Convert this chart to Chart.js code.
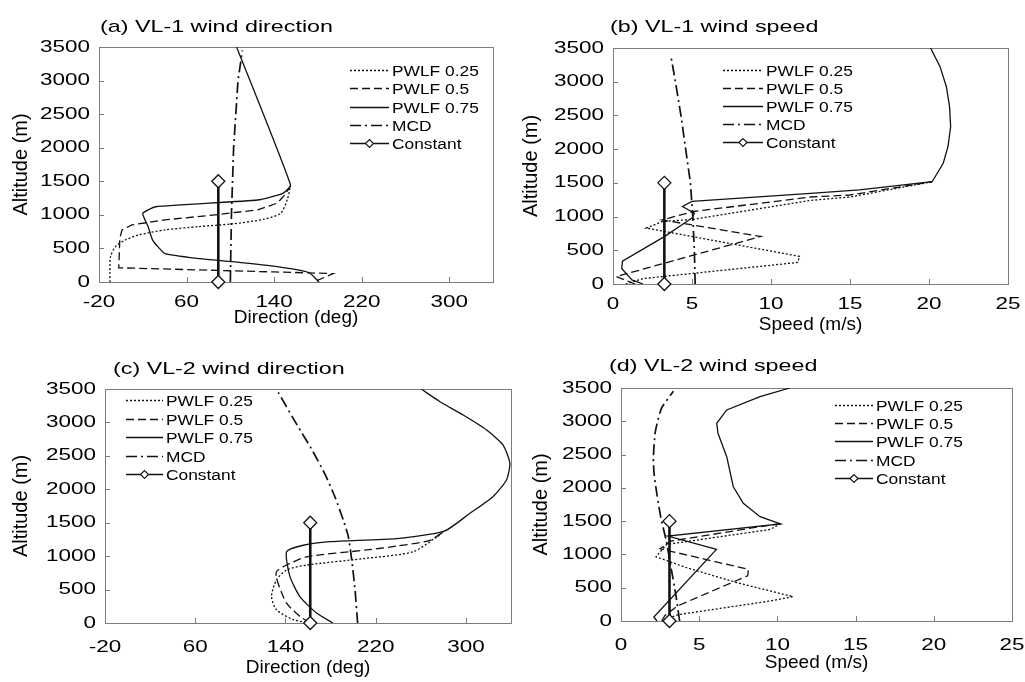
<!DOCTYPE html>
<html>
<head>
<meta charset="UTF-8">
<title>VL-1 / VL-2 wind profiles</title>
<script src="https://cdn.jsdelivr.net/npm/chart.js"></script>
<style>
  body { margin: 0; background: #fff; }
  #wrap { position: relative; width: 1025px; height: 682px; overflow: hidden; }
  canvas { position: absolute; }
</style>
</head>
<body>
<div id="wrap">
  <canvas id="chartA" width="510" height="341" style="left:0;top:0"></canvas>
  <canvas id="chartB" width="515" height="341" style="left:510px;top:0"></canvas>
  <canvas id="chartC" width="520" height="341" style="left:0;top:341px"></canvas>
  <canvas id="chartD" width="505" height="341" style="left:520px;top:341px"></canvas>
</div>
<script>
// series names and tick labels
var seriesNames = ['PWLF 0.25', 'PWLF 0.5', 'PWLF 0.75', 'MCD', 'Constant'];
var altTicks = [0, 500, 1000, 1500, 2000, 2500, 3000, 3500];
var dirTicks = [-20, 60, 140, 220, 300];
var speedTicks = [0, 5, 10, 15, 20, 25];

// values: [value, altitude (m)]
// (a) VL-1 wind direction (deg)
var vl1DirP25 = [[-10,0],[-10,150],[-9.5,375],[-5,525],[4,625],[16,700],[40,775],[71,825],[101,865],[131,935],[146,1025],[152,1225],[155,1435]];
var vl1DirP50 = [[179,20],[194,125],[140,150],[60,185],[-2,212],[-1.5,400],[-1,650],[1,775],[10,850],[40,925],[86,1000],[125,1075],[143,1175],[150,1300],[155,1430]];
var vl1DirP75 = [[181,0],[172,139],[143,228],[102,302],[72,348],[40,427],[29,625],[25,820],[20,1023],[32,1121],[125,1221],[148,1321],[155,1445],[105.7,3500]];
var vl1DirMcd = [[100,0],[100.5,500],[101,1000],[102,1500],[103,2000],[105,2500],[107,3000],[111,3450]];
var vl1DirConst = [[89,0],[89,1500]];

// (b) VL-1 wind speed (m/s)
var vl1SpdP25 = [[0.8,0],[1.9,80],[11.7,320],[11.8,410],[2.1,830],[3.1,925],[5.1,960],[12.5,1240],[15,1290],[20.2,1517]];
var vl1SpdP50 = [[1.4,0],[0.2,110],[9.35,705],[3.1,950],[5.1,1075],[12.5,1290],[15,1320],[20.2,1517]];
var vl1SpdP75 = [[1.9,0],[1.2,60],[0.55,230],[0.6,340],[3.3,710],[5.0,980],[5.15,1050],[4.4,1150],[5.0,1225],[12.5,1345],[15.6,1395],[20.2,1517],[20.9,1790],[21.2,2036],[21.37,2333],[21.3,2630],[21.1,2926],[20.7,3223],[20.1,3500]];
var vl1SpdMcd = [[5.2,0],[5.15,500],[5.05,1000],[4.9,1500],[4.6,2000],[4.3,2500],[3.95,3000],[3.65,3400]];
var vl1SpdConst = [[3.25,0],[3.25,1500]];

// (c) VL-2 wind direction (deg)
var vl2DirP25 = [[161.6,0],[147,50],[132,198],[127.7,396],[132,643],[141,792],[158.8,866],[210,965],[253,1064],[274,1287],[281,1375]];
var vl2DirP50 = [[161.6,0],[152.8,99],[141,297],[133.5,594],[132,767],[144,891],[158.8,990],[210,1089],[238.6,1150],[268,1237],[281,1375]];
var vl2DirP75 = [[182,0],[167.6,148],[152.8,396],[144,693],[141,1064],[155.8,1163],[179.5,1216],[238.6,1262],[281,1375],[303.6,1641],[324,1889],[336,2139],[339,2388],[333,2662],[318.4,2887],[297.6,3111],[277,3310],[260.7,3495]];
var vl2DirMcd = [[204,0],[201.7,495],[198.8,940],[195.8,1287],[191.4,1535],[184,1881],[175,2228],[163.2,2600],[150,2970],[133.6,3450]];
var vl2DirConst = [[162,0],[162,1500]];

// (d) VL-2 wind speed (m/s)
var vl2SpdP25 = [[2.8,30],[3.77,100],[9.53,300],[11.0,366],[7.5,570],[4.2,800],[2.24,965],[2.92,1150],[9.53,1375],[10.2,1460]];
var vl2SpdP50 = [[2.6,0],[2.8,80],[3.6,225],[8.1,680],[8.15,775],[2.5,1085],[3.2,1200],[9.5,1440],[10.2,1460]];
var vl2SpdP75 = [[2.3,0],[2.1,60],[6.1,1075],[3.0,1275],[10.2,1460],[8.89,1567],[7.82,1768],[7.18,2017],[6.76,2468],[6.2,2820],[6.12,2970],[6.76,3170],[8.89,3370],[10.8,3500]];
var vl2SpdMcd = [[3.75,0],[3.5,400],[3.2,800],[2.9,1200],[2.55,1550],[2.3,1900],[2.12,2200],[2.07,2450],[2.2,2850],[2.6,3200],[3.35,3450]];
var vl2SpdConst = [[3.1,0],[3.1,1500]];

var FONT = 'Arial, "Liberation Sans", sans-serif';
var INK = '#111';

// line styles for the five series
var seriesStyles = [
    { borderDash: [2, 2], borderWidth: 1.3 },
    { borderDash: [8, 4], borderWidth: 1.3 },
    { borderDash: [], borderWidth: 1.3 },
    { borderDash: [11, 4, 2, 4], borderWidth: 1.7 },
    { borderDash: [], borderWidth: 2.6, pointRadius: 6.5, pointStyle: 'rectRot',
      pointBackgroundColor: '#fff', pointBorderColor: INK, pointBorderWidth: 1.3, clip: false, order: -1 }
];

function makeSets(list, tension) {
    return list.map(function(pairs, i) {
        var ds = {
            label: seriesNames[i],
            data: pairs.map(function(p) { return { x: p[0], y: p[1] }; }),
            borderColor: INK,
            pointRadius: 0,
            fill: false,
            tension: i < 4 ? tension[i] : 0
        };
        return Object.assign(ds, seriesStyles[i]);
    });
}

// the picture's text is drawn wide, so labels are stretched sideways
function wideText(ctx, text, x, y, sx, align) {
    ctx.save();
    ctx.translate(x, y);
    ctx.scale(sx, 1);
    ctx.textAlign = align;
    ctx.fillText(text, 0, 0);
    ctx.restore();
}

// frame, inward tick marks, tick labels, panel title and the legend
var panelDecor = {
    id: 'panelDecor',
    beforeDatasetsDraw: function(chart) {
        var ctx = chart.ctx, a = chart.chartArea, x = chart.scales.x, y = chart.scales.y;
        ctx.save();
        ctx.strokeStyle = '#7c7c7c';
        ctx.lineWidth = 1;
        ctx.strokeRect(Math.round(a.left) + 0.5, Math.round(a.top) + 0.5, Math.round(a.width), Math.round(a.height));
        ctx.beginPath();
        x.ticks.forEach(function(t) {
            if (t.value === x.min || t.value === x.max) return;
            var px = Math.round(x.getPixelForValue(t.value)) + 0.5;
            ctx.moveTo(px, a.bottom); ctx.lineTo(px, a.bottom - 5);
        });
        y.ticks.forEach(function(t) {
            if (t.value === y.min || t.value === y.max) return;
            var py = Math.round(y.getPixelForValue(t.value)) + 0.5;
            ctx.moveTo(a.left, py); ctx.lineTo(a.left + 5, py);
        });
        ctx.stroke();
        ctx.restore();
    },
    afterDraw: function(chart, args, opts) {
        var ctx = chart.ctx, a = chart.chartArea, x = chart.scales.x, y = chart.scales.y;
        ctx.save();
        ctx.fillStyle = '#000';
        ctx.textBaseline = 'middle';

        // tick labels, placed by the chart's own scales
        ctx.font = '16.5px ' + FONT;
        x.ticks.forEach(function(t) {
            wideText(ctx, String(t.value), x.getPixelForValue(t.value), a.bottom + opts.xLabelGap, 1.36, 'center');
        });
        y.ticks.forEach(function(t) {
            wideText(ctx, String(t.value), a.left - 9, y.getPixelForValue(t.value), 1.36, 'right');
        });

        ctx.font = '17px ' + FONT;
        wideText(ctx, opts.title, opts.titleX, opts.titleY, 1.37, 'left');

        ctx.font = '15.5px ' + FONT;
        chart.data.datasets.forEach(function(ds, i) {
            var ly = Math.round(opts.legY + i * opts.legRow) + 0.5;
            ctx.strokeStyle = INK;
            ctx.lineWidth = i === 4 ? 1.6 : ds.borderWidth;
            ctx.setLineDash(ds.borderDash || []);
            ctx.beginPath();
            ctx.moveTo(opts.legX, ly);
            ctx.lineTo(opts.legX + opts.legLen, ly);
            ctx.stroke();
            ctx.setLineDash([]);
            if (i === 4) {
                var cx = opts.legX + opts.legLen / 2, r = 4;
                ctx.beginPath();
                ctx.moveTo(cx - r, ly); ctx.lineTo(cx, ly - r); ctx.lineTo(cx + r, ly); ctx.lineTo(cx, ly + r);
                ctx.closePath();
                ctx.fillStyle = '#fff'; ctx.fill();
                ctx.lineWidth = 1.1; ctx.stroke();
                ctx.fillStyle = '#000';
            }
            wideText(ctx, ds.label, opts.legX + opts.legLen + 3, ly + 1, 1.12, 'left');
        });
        ctx.restore();
    }
};

function buildChart(id, sets, p) {
    var yWidth = p.left - p.padLeft;
    var xHeight = p.canvasH - p.bottom;
    return new Chart(document.getElementById(id), {
        type: 'line',
        data: { datasets: sets },
        plugins: [panelDecor],
        options: {
            responsive: false,
            animation: false,
            layout: { padding: { left: p.padLeft, right: p.padRight, top: p.top, bottom: 0 } },
            plugins: {
                legend: { display: false },
                tooltip: { enabled: false },
                panelDecor: p.decor
            },
            scales: {
                x: {
                    type: 'linear', min: p.xMin, max: p.xMax,
                    afterBuildTicks: function(s) { s.ticks = p.xTicks.map(function(v) { return { value: v }; }); },
                    afterFit: function(s) { s.height = xHeight; },
                    grid: { display: false, drawTicks: false },
                    border: { display: false },
                    ticks: { display: false },
                    title: { display: true, text: p.xTitle, color: '#000', font: { family: FONT, size: 19 },
                             padding: { top: 0, bottom: p.xTitlePad } }
                },
                y: {
                    type: 'linear', min: 0, max: 3500,
                    afterBuildTicks: function(s) { s.ticks = altTicks.map(function(v) { return { value: v }; }); },
                    afterFit: function(s) { s.width = yWidth; },
                    grid: { display: false, drawTicks: false },
                    border: { display: false },
                    ticks: { display: false },
                    title: { display: true, text: 'Altitude (m)', color: '#000', font: { family: FONT, size: 20 },
                             padding: { top: 4, bottom: 0 } }
                }
            }
        }
    });
}

buildChart('chartA', makeSets([vl1DirP25, vl1DirP50, vl1DirP75, vl1DirMcd, vl1DirConst], [0.25, 0, 0.15, 0]), {
    canvasH: 341, padLeft: 5, left: 99, padRight: 17, top: 47, bottom: 282,
    xMin: -20, xMax: 340, xTicks: dirTicks, xTitle: 'Direction (deg)', xTitlePad: 11.6,
    decor: { title: '(a) VL-1 wind direction', titleX: 100, titleY: 27, xLabelGap: 20,
             legX: 350, legY: 70, legRow: 18.3, legLen: 39 }
});

buildChart('chartB', makeSets([vl1SpdP25, vl1SpdP50, vl1SpdP75, vl1SpdMcd, vl1SpdConst], [0, 0, 0, 0]), {
    canvasH: 341, padLeft: 5, left: 103, padRight: 17, top: 48, bottom: 284,
    xMin: 0, xMax: 25, xTicks: speedTicks, xTitle: 'Speed (m/s)', xTitlePad: 4.6,
    decor: { title: '(b) VL-1 wind speed', titleX: 100, titleY: 27, xLabelGap: 20,
             legX: 213, legY: 70, legRow: 18.1, legLen: 40 }
});

buildChart('chartC', makeSets([vl2DirP25, vl2DirP50, vl2DirP75, vl2DirMcd, vl2DirConst], [0.25, 0.25, 0.2, 0.2]), {
    canvasH: 341, padLeft: 5, left: 105, padRight: 9, top: 48, bottom: 282,
    xMin: -20, xMax: 340, xTicks: dirTicks, xTitle: 'Direction (deg)', xTitlePad: 2.6,
    decor: { title: '(c) VL-2 wind direction', titleX: 113, titleY: 28, xLabelGap: 24,
             legX: 126, legY: 59, legRow: 18.6, legLen: 37 }
});

buildChart('chartD', makeSets([vl2SpdP25, vl2SpdP50, vl2SpdP75, vl2SpdMcd, vl2SpdConst], [0, 0, 0, 0.2]), {
    canvasH: 341, padLeft: 5, left: 101, padRight: 13, top: 47, bottom: 280,
    xMin: 0, xMax: 25, xTicks: speedTicks, xTitle: 'Speed (m/s)', xTitlePad: 7.6,
    decor: { title: '(d) VL-2 wind speed', titleX: 89, titleY: 25, xLabelGap: 24,
             legX: 315, legY: 64, legRow: 18.2, legLen: 38 }
});
</script>
</body>
</html>
